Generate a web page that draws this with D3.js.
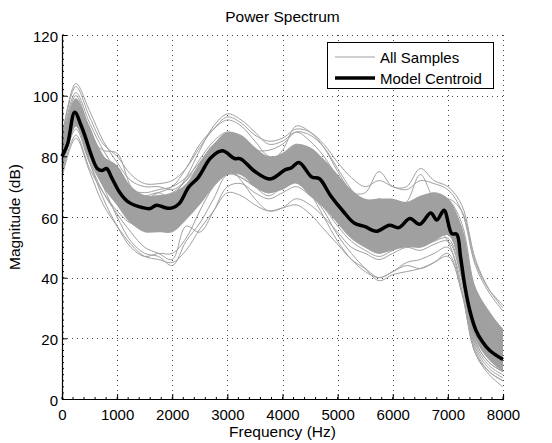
<!DOCTYPE html>
<html>
<head>
<meta charset="utf-8">
<script src="https://cdn.jsdelivr.net/npm/d3@7"></script>
<style>
  body { margin: 0; background: #fff; }
  svg text { font-family: "Liberation Sans", Arial, Helvetica, sans-serif; fill: #000; }
</style>
</head>
<body>
<svg id="chart" width="552" height="443"></svg>
<script>
////////////
// DATA
////////////

let xTicks = [0, 1000, 2000, 3000, 4000, 5000, 6000, 7000, 8000];
let yTicks = [0, 20, 40, 60, 80, 100, 120];

// frequency knots shared by all sample curves (Hz)
let sampleFreqs = [0, 250, 500, 750, 1000, 1250, 1500, 1750, 2000, 2250, 2500, 2750, 3000, 3250,
    3500, 3750, 4000, 4250, 4500, 4750, 5000, 5250, 5500, 5750, 6000, 6250, 6500, 6750, 7000,
    7250, 7500, 7750, 8000];

// each row = one sample spectrum (dB) at sampleFreqs
let samples = [
    [86,103,93,84,80,74,71,71,72,76,83,89,93,91,87,85,86,89,88,84,78,73,70,72,70,69,72,71,69,62,44,35,29],
    [73,86,75,64,57,51,47,46,45,49,56,62,68,67,64,62,63,64,61,56,51,46,43,40,42,44,43,45,48,35,15,8,4],
    [84,99,88,80,76,70,67,67,68,72,79,85,88,86,82,79,81,84,82,78,73,67,64,66,64,64,66,68,66,58,36,28,23],
    [76,90,79,70,64,58,56,56,57,61,67,73,76,74,70,67,70,73,69,64,58,53,50,48,50,52,51,54,55,41,19,12,9],
    [82,97,86,82,81,70,65,64,63,66,72,78,82,80,77,74,77,80,78,74,68,63,60,58,61,62,60,63,62,52,30,21,17],
    [78,92,80,70,60,52,48,47,44,52,58,66,74,73,70,68,70,73,70,66,60,55,52,50,53,55,54,56,57,44,21,14,11],
    [81,96,84,77,71,66,65,66,67,73,82,90,94,92,88,84,85,88,85,80,73,66,62,60,61,62,62,64,63,53,31,22,18],
    [79,95,83,76,70,65,64,65,65,70,76,83,85,84,80,78,82,90,88,83,75,68,63,60,62,63,62,64,64,55,33,24,19],
    [80,94,82,75,69,63,62,62,62,66,72,78,79,77,72,69,71,73,68,62,54,48,43,39,41,42,43,45,47,36,16,9,6],
    [83,98,86,78,72,67,66,67,66,70,76,82,84,82,78,76,78,81,79,77,72,68,68,75,70,70,76,72,70,64,46,36,30],
    [77,91,81,73,67,61,60,61,60,64,70,76,78,77,73,71,74,76,73,70,65,60,58,57,59,60,60,62,61,50,27,19,15],
    [85,101,91,82,75,69,67,68,66,69,74,80,82,80,77,74,75,77,75,72,66,61,58,56,58,59,58,61,60,50,27,19,15],
    [79,93,82,75,69,64,62,63,62,66,72,78,80,78,74,72,74,76,73,69,63,58,56,54,56,57,56,57,52,36,15,9,6],
    [81,95,83,76,70,66,64,65,64,68,74,80,82,80,76,74,76,78,75,72,66,62,60,59,60,61,61,64,66,62,45,36,31],
    [74,87,76,68,62,58,58,59,59,63,70,77,79,77,73,71,73,75,72,68,62,57,55,53,55,56,56,58,57,44,22,14,10],
    [82,96,84,79,74,67,64,64,64,69,76,83,86,82,77,74,76,79,76,73,67,62,59,58,60,61,59,62,60,48,25,17,14],
    [77,90,78,68,61,55,50,48,46,57,55,62,70,71,68,66,68,70,67,63,57,52,49,47,49,51,50,52,53,40,18,11,8],
    [80,94,83,76,70,66,66,68,70,76,84,89,92,90,85,80,80,82,79,76,70,64,61,59,60,61,60,62,62,52,29,21,17],
    [78,93,81,73,67,62,61,62,61,65,70,77,79,77,74,72,74,77,74,70,64,60,57,56,57,59,58,60,59,48,25,17,13],
    [83,100,89,80,73,68,66,66,66,70,75,81,83,81,76,73,76,79,76,72,67,62,60,59,61,62,63,65,62,49,26,18,14],
    [80,94,82,75,69,64,63,64,63,67,72,78,77,72,66,62,63,66,64,60,55,50,48,46,48,50,49,51,52,40,19,12,9],
    [81,95,84,77,72,67,65,65,64,68,74,81,84,84,82,82,84,88,87,83,76,69,64,61,62,63,63,65,64,54,32,23,18],
    [75,89,78,71,65,60,58,58,58,62,68,74,75,73,70,68,70,72,70,67,61,56,53,52,54,55,55,57,58,46,23,15,11],
    [79,94,83,77,71,66,64,64,63,67,72,79,81,79,75,73,75,78,75,71,66,61,60,62,63,65,74,66,63,51,28,20,16],
    [82,96,85,77,71,66,64,64,64,68,74,80,82,80,76,73,74,74,68,60,52,46,42,40,42,45,46,48,50,38,17,10,7],
    [84,98,87,79,74,69,68,69,70,73,78,84,86,84,80,77,79,81,79,76,70,65,62,61,62,64,64,66,65,56,35,26,21],
    [76,91,80,72,66,61,60,60,59,63,69,75,77,76,72,70,72,75,72,68,62,57,54,52,54,55,54,56,55,42,20,13,9],
    [78,91,78,66,57,50,47,48,48,53,62,70,74,74,71,68,70,72,69,65,59,54,51,50,52,53,53,55,56,43,21,13,10],
    [86,104,95,85,78,72,70,70,69,72,77,82,84,82,78,75,77,79,77,73,68,63,60,58,60,61,61,63,62,51,29,21,17],
    [80,93,81,74,68,63,62,63,63,67,73,79,81,80,76,74,77,80,77,73,67,62,59,58,60,61,61,63,63,53,30,21,16]
];

// dense middle of the sample bundle (where the grey lines overlap solidly)
let coreHigh = [84,99,90,80,77,70,67,67,68,71,78,84,88,87,83,80,81,84,83,79,74,69,66,66,66,65,67,68,66,57,37,29,23];
let coreLow  = [77,90,80,70,64,58,55,55,55,59,64,70,74,74,70,68,69,71,67,63,58,53,50,48,49,50,50,52,54,42,20,13,9];

// model centroid
let centroidFreq = [0, 100, 230, 350, 430, 520, 640, 730, 810, 900, 1050, 1200, 1480, 1600, 1715,
    1890, 2000, 2126, 2300, 2470, 2700, 2910, 3130, 3240, 3500, 3780, 4050, 4160, 4300, 4530,
    4670, 4870, 5100, 5300, 5500, 5700, 5940, 6110, 6310, 6490, 6690, 6800, 6930, 7070, 7160,
    7230, 7310, 7400, 7510, 7630, 7760, 8000];
let centroidMag = [80, 84, 94.5, 90, 86, 81, 76, 75.3, 76, 73, 68, 65, 63, 62.8, 63.9,
    63, 63, 64.4, 69.9, 73, 79.5, 81.8, 79.3, 79.2, 75, 72.5, 75.6, 76.2, 78, 73.2,
    72.6, 67.1, 61.9, 58, 56.8, 55.3, 57.3, 56.5, 59.5, 57.6, 61.3, 59, 62.2, 54.5, 54.3,
    46.8, 37, 29, 22.6, 18.8, 16, 13];

let legendLabels = ["All Samples", "Model Centroid"];

////////////
// SETTINGS
////////////
const margin = { left: 62, right: 49, top: 35, bottom: 44 };
const W = 552, H = 443;
const sampleColor = "#a0a0a0";

const svg = d3.select("#chart");
const x = d3.scaleLinear().domain([0, 8000]).range([margin.left, W - margin.right]);
const y = d3.scaleLinear().domain([0, 120]).range([H - margin.bottom, margin.top]);

const line = d3.line()
    .x(d => x(d[0]))
    .y(d => y(d[1]))
    .curve(d3.curveCatmullRom.alpha(0.5));

const area = d3.area()
    .x(d => x(d[0]))
    .y0(d => y(d[1]))
    .y1(d => y(d[2]))
    .curve(d3.curveCatmullRom.alpha(0.5));

////////////
// DRAWING
////////////

// dotted grid
const grid = svg.append("g").attr("class", "grid")
    .attr("stroke", "#444").attr("stroke-width", 1).attr("stroke-dasharray", "1,4");
grid.selectAll(".vgrid").data(xTicks.slice(1)).join("line")
    .attr("x1", d => Math.round(x(d)) + 0.5).attr("x2", d => Math.round(x(d)) + 0.5)
    .attr("y1", y(120)).attr("y2", y(0));
grid.selectAll(".hgrid").data(yTicks.slice(1)).join("line")
    .attr("y1", d => Math.round(y(d)) + 0.5).attr("y2", d => Math.round(y(d)) + 0.5)
    .attr("x1", x(0)).attr("x2", x(8000));

// sample bundle
svg.append("path")
    .datum(sampleFreqs.map((f, i) => [f, coreLow[i], coreHigh[i]]))
    .attr("d", area)
    .attr("fill", sampleColor);

svg.append("g").selectAll("path")
    .data(samples)
    .join("path")
    .attr("d", s => line(sampleFreqs.map((f, i) => [f, s[i]])))
    .attr("fill", "none")
    .attr("stroke", sampleColor)
    .attr("stroke-width", 1);

// centroid
svg.append("path")
    .datum(centroidFreq.map((f, i) => [f, centroidMag[i]]))
    .attr("d", line)
    .attr("fill", "none")
    .attr("stroke", "#000")
    .attr("stroke-width", 3.5)
    .attr("stroke-linejoin", "round");

// axes (ticks point inward, MATLAB style)
const xAxis = svg.append("g")
    .attr("transform", `translate(0,${y(0)})`)
    .call(d3.axisBottom(x).tickValues(xTicks).tickFormat(d3.format("d")).tickSize(-5).tickPadding(10));
const yAxis = svg.append("g")
    .attr("transform", `translate(${x(0)},0)`)
    .call(d3.axisLeft(y).tickValues(yTicks).tickSize(-5).tickPadding(4));

[xAxis, yAxis].forEach(a => {
    a.select(".domain").attr("stroke", "#000").attr("stroke-width", 1.2);
    a.selectAll(".tick line").attr("stroke", "#000");
    a.selectAll("text").attr("font-size", 15).attr("font-family", "Liberation Sans, Arial, sans-serif");
});
yAxis.selectAll(".tick text").attr("dy", "0.4em");

// minor ticks
svg.append("g").selectAll("line")
    .data(d3.range(0, 121, 2))
    .join("line")
    .attr("x1", x(0)).attr("x2", x(0) + 2)
    .attr("y1", d => y(d)).attr("y2", d => y(d))
    .attr("stroke", "#000");
svg.append("g").selectAll("line")
    .data(d3.range(0, 8001, 200))
    .join("line")
    .attr("y1", y(0)).attr("y2", y(0) - 2)
    .attr("x1", d => x(d)).attr("x2", d => x(d))
    .attr("stroke", "#000");

// titles
svg.append("text")
    .attr("x", (x(0) + x(8000)) / 2).attr("y", 22)
    .attr("text-anchor", "middle").attr("font-size", 15.5)
    .text("Power Spectrum");
svg.append("text")
    .attr("x", (x(0) + x(8000)) / 2).attr("y", 437)
    .attr("text-anchor", "middle").attr("font-size", 15.5)
    .text("Frequency (Hz)");
svg.append("text")
    .attr("transform", `translate(20,${(y(0) + y(120)) / 2}) rotate(-90)`)
    .attr("text-anchor", "middle").attr("font-size", 15.5)
    .text("Magnitude (dB)");

// legend
const legend = svg.append("g").attr("class", "legend");
legend.append("rect")
    .attr("x", 327.5).attr("y", 42.5).attr("width", 166).attr("height", 46)
    .attr("fill", "#fff").attr("stroke", "#000").attr("stroke-width", 1);
legendLabels.forEach((label, i) => {
    const ly = 57 + i * 21;
    legend.append("line")
        .attr("x1", 335).attr("x2", 375).attr("y1", ly).attr("y2", ly)
        .attr("stroke", i === 0 ? sampleColor : "#000")
        .attr("stroke-width", i === 0 ? 1 : 3.5);
    legend.append("text")
        .attr("x", 380).attr("y", ly + 5.5)
        .attr("font-size", 15)
        .text(label);
});
</script>
</body>
</html>
